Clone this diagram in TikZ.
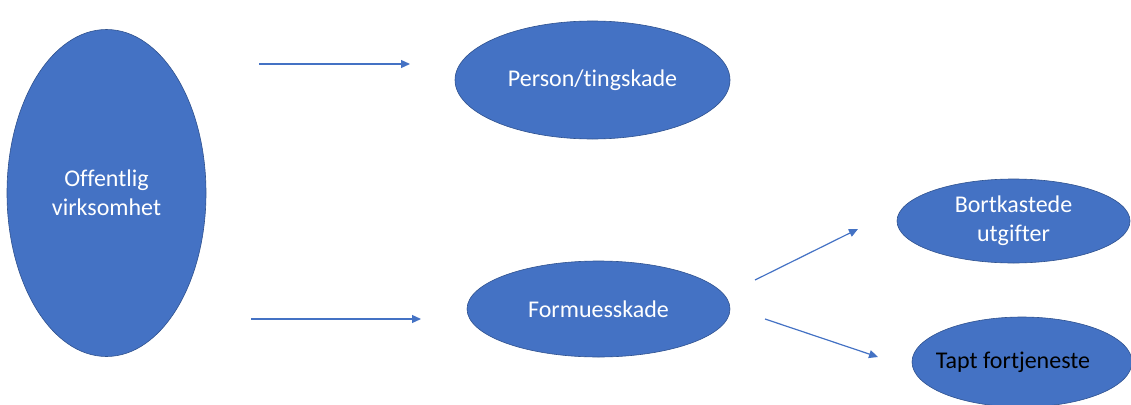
\documentclass[tikz,border=0pt]{standalone}
\usepackage{fontspec}
\setmainfont[Ligatures=NoCommon]{Carlito}
\usetikzlibrary{shapes.geometric,arrows.meta}
\definecolor{bluefill}{HTML}{4472C4}
\definecolor{blueedge}{HTML}{2F528F}
\begin{document}
\begin{tikzpicture}[x=1pt,y=-1pt,
  oval/.style={ellipse,fill=bluefill,draw=blueedge,line width=0.6pt,inner sep=0pt,
    font=\fontsize{24}{29}\selectfont,text=white,align=center},
  arr/.style={draw=bluefill,line width=1.2pt,-{Triangle[length=9pt,width=8pt]}}]
\useasboundingbox (0,0) rectangle (1131,404);
\node[oval,minimum width=199,minimum height=327] (off) at (106.5,193) {Offentlig\\virksomhet};
\node[oval,minimum width=275,minimum height=118] (pers) at (592.5,80) {Person/tingskade};
\node[oval,minimum width=263,minimum height=96] (form) at (598.5,309) {Formuesskade};
\node[oval,minimum width=233,minimum height=84] (bort) at (1013.5,221) {Bortkastede\\utgifter};
\node[oval,minimum width=220,minimum height=90,text=black] (tapt) at (1022,362) {\raisebox{-3pt}{\makebox[0pt]{Tapt fortjeneste\hspace*{18pt}}}};
\coordinate (a1s) at (259,64);
\coordinate (a1e) at (410,64);
\coordinate (a2s) at (251,319);
\coordinate (a2e) at (421,319);
\coordinate (a3s) at (755,280);
\coordinate (a3e) at (858,229);
\coordinate (a4s) at (765,319);
\coordinate (a4e) at (878,357);
\draw[arr] (a1s) -- (a1e);
\draw[arr] (a2s) -- (a2e);
\draw[arr] (a3s) -- (a3e);
\draw[arr] (a4s) -- (a4e);
\end{tikzpicture}
\end{document}
